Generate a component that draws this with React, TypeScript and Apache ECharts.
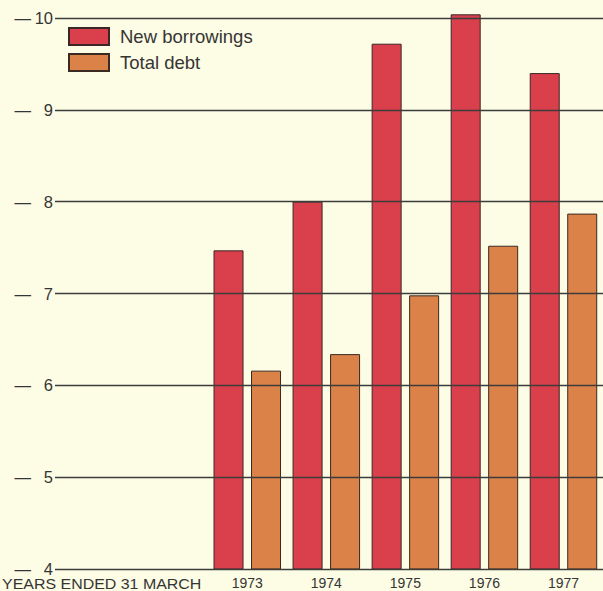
import React, { useEffect, useRef } from "react";
import * as echarts from "echarts";

// Years ended 31 March
const years = ["1973", "1974", "1975", "1976", "1977"];
const newBorrowings = [7.47, 8.0, 9.72, 10.04, 9.4];
const totalDebt = [6.16, 6.34, 6.98, 7.52, 7.87];
const yTicks = { min: 4, max: 10, interval: 1 };
const xCaption = "YEARS ENDED 31 MARCH";

const FONT = "'Liberation Sans', Arial, Helvetica, sans-serif";
const INK = "#353535";
const BG = "#fdfce4";
const RED = "#da404b";
const ORANGE = "#db8249";

// Plot area shared by both grids: value 10 at y=18, value 4 at y=569
const PLOT_TOP = 18;
const PLOT_BOTTOM = 22;
const PX_PER_UNIT = (591 - PLOT_TOP - PLOT_BOTTOM) / (yTicks.max - yTicks.min);
// The bar grid gets a little headroom so the tallest bar is not clipped
const BAR_MAX = 10.1;
const BAR_TOP = PLOT_TOP - (BAR_MAX - yTicks.max) * PX_PER_UNIT;

export default function App() {
  const ref = useRef<HTMLDivElement>(null);

  useEffect(() => {
    if (!ref.current) return;
    const chart = echarts.init(ref.current, undefined, { renderer: "svg" });
    chart.setOption({
      animation: false,
      backgroundColor: BG,
      textStyle: { fontFamily: FONT, color: INK },
      legend: {
        left: 68,
        top: 27,
        padding: 0,
        orient: "vertical",
        icon: "rect",
        itemWidth: 40,
        itemHeight: 17,
        itemGap: 7,
        textStyle: { fontSize: 18.5, color: INK, fontFamily: FONT, padding: [0, 0, 0, 6] },
        data: ["New borrowings", "Total debt"],
      },
      grid: [
        { left: 55, right: 0, top: PLOT_TOP, bottom: PLOT_BOTTOM },
        { left: 207.75, right: -12.25, top: BAR_TOP, bottom: PLOT_BOTTOM },
      ],
      xAxis: [
        { type: "value", gridIndex: 0, show: false, min: 0, max: 1 },
        {
          type: "category",
          gridIndex: 1,
          data: years,
          axisLine: { show: false },
          axisTick: { show: false },
          axisLabel: { fontSize: 14, color: INK, fontFamily: FONT, margin: 7 },
        },
      ],
      yAxis: [
        {
          type: "value",
          gridIndex: 0,
          z: 5,
          min: yTicks.min,
          max: yTicks.max,
          interval: yTicks.interval,
          axisLine: { show: false },
          axisTick: { show: false },
          splitLine: { lineStyle: { color: "#3c3c3c", width: 1.3 } },
          axisLabel: {
            margin: 2,
            formatter: (v: number) => `{d|—}{n|${v}}`,
            rich: {
              d: { fontSize: 16.5, color: INK, fontFamily: FONT, lineHeight: 12 },
              n: {
                fontSize: 16.5,
                color: INK,
                fontFamily: FONT,
                width: 22,
                align: "right",
                lineHeight: 12,
              },
            },
          },
        },
        {
          type: "value",
          gridIndex: 1,
          show: false,
          min: yTicks.min,
          max: BAR_MAX,
          splitLine: { show: false },
        },
      ],
      graphic: [
        {
          type: "text",
          left: 2,
          top: 577,
          scaleX: 1.14,
          style: {
            text: xCaption,
            fontSize: 14,
            lineHeight: 14,
            fill: INK,
            fontFamily: FONT,
          },
        },
      ],
      series: [
        {
          name: "New borrowings",
          type: "bar",
          xAxisIndex: 1,
          yAxisIndex: 1,
          data: newBorrowings,
          barWidth: 30,
          barGap: "25%",
          itemStyle: { color: RED, borderColor: "#3a2626", borderWidth: 1 },
        },
        {
          name: "Total debt",
          type: "bar",
          xAxisIndex: 1,
          yAxisIndex: 1,
          data: totalDebt,
          barWidth: 30,
          barGap: "25%",
          itemStyle: { color: ORANGE, borderColor: "#3a2a22", borderWidth: 1 },
        },
      ],
    });
    return () => chart.dispose();
  }, []);

  return (
    <div
      ref={ref}
      style={{ position: "fixed", left: 0, top: 0, width: 603, height: 591, background: BG }}
    />
  );
}
